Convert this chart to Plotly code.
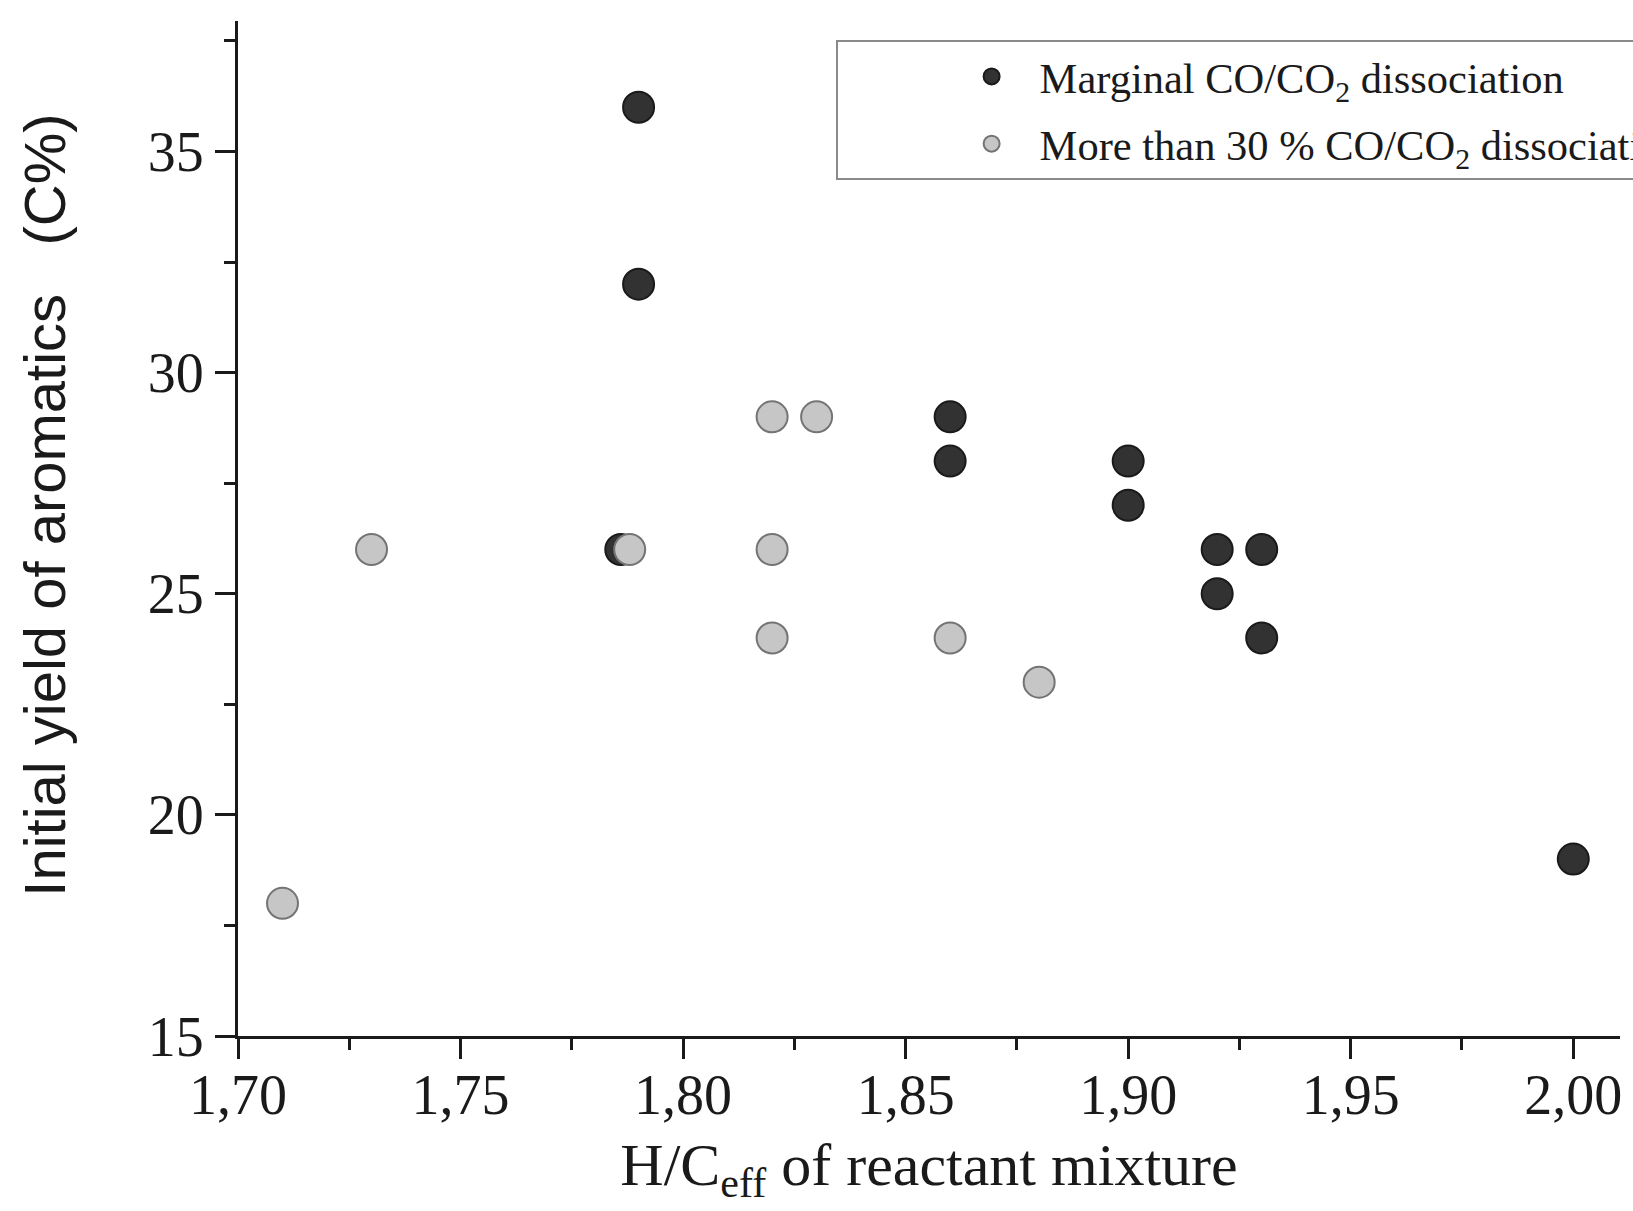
import plotly.graph_objects as go

# Data
dark_x = [1.79, 1.79, 1.86, 1.86, 1.90, 1.90, 1.92, 1.92, 1.93, 1.93, 2.00, 1.786]
dark_y = [36, 32, 29, 28, 28, 27, 26, 25, 26, 24, 19, 26]
light_x = [1.71, 1.73, 1.788, 1.82, 1.83, 1.82, 1.82, 1.86, 1.88]
light_y = [18, 26, 26, 29, 29, 26, 24, 24, 23]

name_dark = "Marginal CO/CO<sub>2</sub> dissociation"
name_light = "More than 30 % CO/CO<sub>2</sub> dissociation"

x_ticks = [1.70, 1.75, 1.80, 1.85, 1.90, 1.95, 2.00]
y_ticks = [15, 20, 25, 30, 35]

x_title = "H/C<sub>eff</sub> of reactant mixture"
y_title = "Initial yield of aromatics\u00a0\u00a0\u00a0(C%)"

SERIF = "Liberation Serif, Times New Roman, serif"
SANS = "Liberation Sans Narrow, Arial Narrow, Liberation Sans, Arial, sans-serif"
INK = "#1a1a1a"

fig = go.Figure()
fig.add_trace(go.Scatter(
    x=dark_x, y=dark_y, mode="markers", name=name_dark, legendgroup="a",
    marker=dict(size=31, color="#323232", line=dict(color="#1a1a1a", width=2)),
))
fig.add_trace(go.Scatter(
    x=light_x, y=light_y, mode="markers", name=name_light, legendgroup="b",
    marker=dict(size=31, color="#c6c6c6", line=dict(color="#747474", width=2)),
))

fig.update_layout(
    width=1633, height=1211,
    margin=dict(l=238, r=13, t=21, b=175, autoexpand=False),
    paper_bgcolor="white", plot_bgcolor="white",
    separators=", ",
    font=dict(family=SERIF, color=INK),
    legend=dict(
        x=0.4327, y=0.981, xanchor="left", yanchor="top",
        bgcolor="white", bordercolor="#8a8a8a", borderwidth=2,
        font=dict(family=SERIF, size=42.5, color=INK),
        traceorder="grouped", tracegroupgap=9, itemwidth=86, itemsizing="trace",
        title=dict(text="\u00a0" * 9, side="left", font=dict(family=SERIF, size=42.5)),
    ),
    xaxis=dict(
        range=[1.70, 2.0105], tickvals=x_ticks, tickformat=".2f",
        showgrid=False, zeroline=False, showline=True, linecolor=INK, linewidth=3,
        ticks="outside", ticklen=20, tickwidth=3, tickcolor=INK,
        ticklabelstandoff=-12,
        tickfont=dict(family=SERIF, size=56, color=INK),
        minor=dict(dtick=0.025, tick0=1.70, ticks="outside", ticklen=11, tickwidth=3, tickcolor=INK),
        title=dict(text=x_title, standoff=18,
                   font=dict(family=SERIF, size=60, color=INK)),
    ),
    yaxis=dict(
        range=[15, 37.95], tickvals=y_ticks,
        showgrid=False, zeroline=False, showline=True, linecolor=INK, linewidth=3,
        ticks="outside", ticklen=20, tickwidth=3, tickcolor=INK,
        tickfont=dict(family=SERIF, size=56, color=INK),
        minor=dict(dtick=2.5, tick0=15, ticks="outside", ticklen=11, tickwidth=3, tickcolor=INK),
    ),
    annotations=[dict(
        text=y_title, textangle=-90, xref="paper", yref="paper",
        x=-0.14, y=0.523, xanchor="center", yanchor="middle", showarrow=False,
        font=dict(family=SANS, size=58, color=INK),
    )],
    showlegend=True,
)

fig.write_html("out.html")
